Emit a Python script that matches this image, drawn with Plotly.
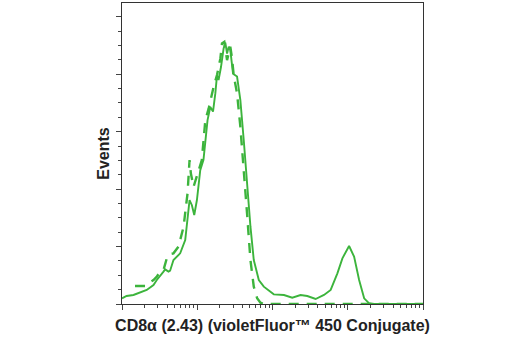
import plotly.graph_objects as go

# Solid histogram (sample)
solid_x = [1.0, 1.15, 1.42, 2.13, 2.62, 2.90, 3.56, 3.74, 4.15, 4.36, 4.83, 5.93, 6.92, 7.43, 7.90,
           8.49, 9.12, 9.90, 10.96, 12.1, 13.2, 13.7, 14.9, 16.2, 17.4, 18.3, 19.2, 20.7, 22.4, 23.6,
           24.9, 26.2, 27.5, 29.9, 33.8, 37.4, 41.5, 45.9, 50.9, 56.4, 65.8, 76.6, 104, 142, 183,
           236, 290, 374, 483, 593, 728, 849, 1042, 1214, 1416, 1652, 1924, 2244, 10000]
solid_y = [9.9, 14, 15.7, 24.4, 33, 41.8, 56.3, 60.3, 56.3, 58, 76.6, 88.2, 111.4, 146, 181,
           172, 155, 181, 233, 251, 297, 320, 343, 335, 367, 398, 390, 413, 445, 455,
           436, 448, 442, 401, 396, 355, 285, 204, 135, 76.6, 41.8, 30.2, 16.8, 15.7, 11,
           15.7, 13.9, 8.7, 15.7, 24.4, 53.4, 79.5, 101, 82.4, 41.8, 9.9, 1.2, 0, 0]

# Dashed histogram (isotype control)
dash_x = [1.49, 2.03, 2.62, 2.90, 3.21, 3.56, 3.94, 4.36, 4.83, 5.64, 6.58, 7.43, 7.90, 8.23,
          8.93, 9.90, 11.5, 12.8, 14.2, 16.5, 18.3, 20.3, 21.3, 22.9, 24.9, 27.5, 29.0, 30.5,
          33.8, 37.4, 41.5, 45.9, 50.9, 56.4, 62.5, 69.2, 76.6, 10000]
dash_y = [31.3, 31.3, 41.8, 47.6, 56.3, 59.2, 79.5, 87, 88.2, 99.8, 134.6, 192.6, 250.6, 227,
          204, 221.6, 250.6, 320, 340.5, 378, 398.5, 427.5, 453.6, 456.5, 424.6, 447.8, 427.5, 398.5,
          366.6, 308.6, 239, 157.8, 76.6, 30.2, 9.9, 2.3, 0, 0]

x_title = "CD8α (2.43) (violetFluor™ 450 Conjugate)"
y_title = "Events"
green = "#3cb43c"

fig = go.Figure()
fig.add_trace(go.Scatter(x=dash_x, y=dash_y, mode="lines",
                         line=dict(color=green, width=2.4, dash="10px,8px")))
fig.add_trace(go.Scatter(x=solid_x, y=solid_y, mode="lines",
                         line=dict(color=green, width=1.9)))

font = "Liberation Sans Narrow, Arial Narrow, Arial, sans-serif"
fig.update_layout(
    width=520, height=350,
    margin=dict(l=122, r=97, t=3, b=46),
    plot_bgcolor="white", paper_bgcolor="white",
    showlegend=False,
    xaxis=dict(type="log", range=[0, 4], dtick=1, showticklabels=False,
               ticks="outside", ticklen=5, tickcolor="#444", showgrid=False, zeroline=False,
               showline=True, linecolor="#333", linewidth=1, mirror=True,
               minor=dict(ticks="outside", ticklen=3, dtick="D1", tickcolor="#444", showgrid=False),
               title=dict(text="<b>" + x_title + "</b>", font=dict(family=font, size=16, color="#222"),
                          standoff=10)),
    yaxis=dict(range=[0, 524], dtick=100, showticklabels=False,
               ticks="outside", ticklen=5, tickcolor="#444", showgrid=False, zeroline=False,
               showline=True, linecolor="#333", linewidth=1, mirror=True,
               minor=dict(ticks="outside", ticklen=3, dtick=25, tickcolor="#444", showgrid=False),
               title=dict(text="<b>" + y_title + "</b>", font=dict(family=font, size=16, color="#222"),
                          standoff=2)),
)
fig.write_html("out.html")
